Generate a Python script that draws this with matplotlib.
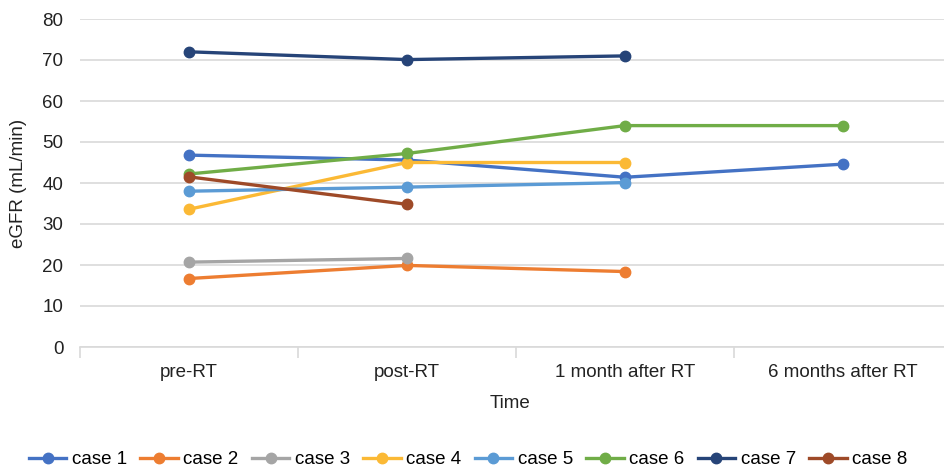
import numpy as np
import matplotlib
matplotlib.use("Agg")
import matplotlib.pyplot as plt

plt.rcParams['font.family'] = ['Liberation Sans', 'DejaVu Sans']

### Data
timepoints = ["pre-RT", "post-RT", "1 month after RT", "6 months after RT"]
case1 = [46.8, 45.6, 41.4, 44.6]
case2 = [16.7, 19.9, 18.4, np.nan]
case3 = [20.7, 21.6, np.nan, np.nan]
case4 = [33.6, 45.0, 45.0, np.nan]
case5 = [38.0, 39.0, 40.1, np.nan]
case6 = [42.2, 47.2, 54.0, 54.0]
case7 = [72.0, 70.1, 71.0, np.nan]
case8 = [41.5, 34.8, np.nan, np.nan]

names = ["case 1", "case 2", "case 3", "case 4", "case 5", "case 6", "case 7", "case 8"]
series = [case1, case2, case3, case4, case5, case6, case7, case8]
colors = ["#4472C4", "#ED7D31", "#A5A5A5", "#FBB935", "#5B9BD5", "#70AD47", "#264478", "#9E4A28"]

fs = 13.5
fig = plt.figure(figsize=(9.44, 4.67), dpi=100)
# plot area runs a bit past the right edge of the picture, as in the reference
ax = fig.add_axes([80/944, 120/467, 872/944, 328/467])

x = np.arange(len(timepoints))
for name, vals, c in zip(names, series, colors):
    ax.plot(x, vals, color=c, lw=2.4, marker='o', ms=7.5, label=name, zorder=3)

ax.set_xlim(-0.5, 3.5)
ax.set_ylim(0, 80)
ax.set_yticks(range(0, 81, 10))
ax.grid(axis='y', color='#D9D9D9', lw=1.2, zorder=0)
ax.set_axisbelow(True)

for s in ['top', 'right', 'left']:
    ax.spines[s].set_visible(False)
ax.spines['bottom'].set_color('#D9D9D9')
ax.spines['bottom'].set_linewidth(1.2)

ax.set_xticks(x)
ax.set_xticklabels(timepoints)
ax.set_xticks([-0.5, 0.5, 1.5, 2.5, 3.5], minor=True)
ax.tick_params(axis='x', which='major', length=0, pad=12, labelsize=fs, labelcolor='#222222')
ax.tick_params(axis='x', which='minor', length=8, color='#D9D9D9', width=1.2)
ax.tick_params(axis='y', length=0, pad=12, labelsize=fs, labelcolor='#222222')

ax.set_ylabel("eGFR (mL/min)", fontsize=fs, color='#222222')
ax.yaxis.set_label_coords(-0.061, 0.5)
ax.set_xlabel("Time", fontsize=fs, color='#222222')
ax.xaxis.set_label_coords(0.493, -0.146)

fig.legend(loc='center', bbox_to_anchor=(0.496, 0.016), ncol=8, frameon=False,
           fontsize=fs, handlelength=2.0, handletextpad=0.3, columnspacing=0.7)

fig.savefig("out.png", dpi=100)
